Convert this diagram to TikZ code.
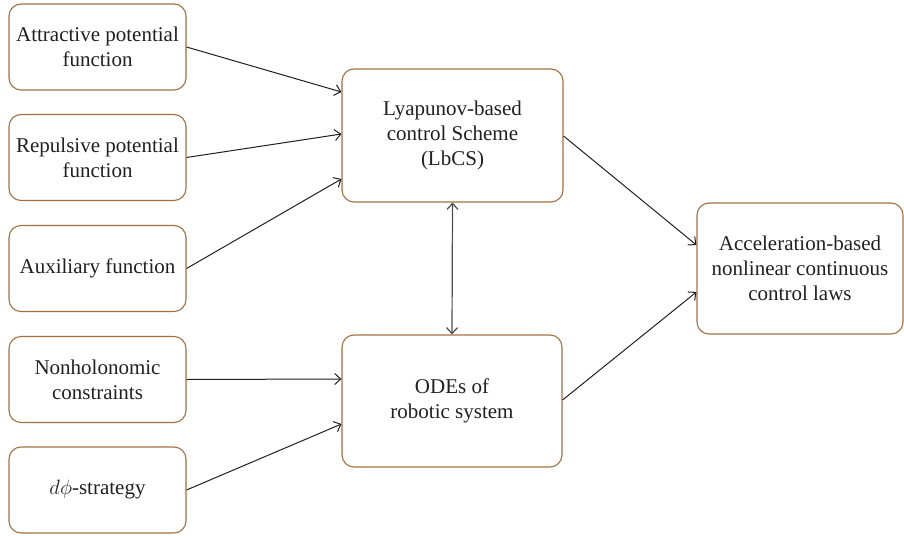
\documentclass[tikz,border=0pt]{standalone}
\usepackage{fontspec}
\setmainfont{Liberation Serif}
\usetikzlibrary{arrows.meta}
\definecolor{boxbrown}{HTML}{A0703F}
\definecolor{txt}{HTML}{231F20}
\begin{document}
\begin{tikzpicture}[x=1pt,y=-1pt,
  blk/.style={draw=boxbrown, line width=1.1pt, rounded corners=12pt, align=center,
    text=txt, font=\fontsize{21}{25}\selectfont, inner sep=0pt},
  lbox/.style={blk, minimum width=177pt, minimum height=86pt},
  conn/.style={draw=txt, line width=1pt, -{Straight Barb[length=6pt,width=11pt]}},
  biconn/.style={draw=txt!80, line width=1.2pt, {Straight Barb[length=6pt,width=11pt]}-{Straight Barb[length=6pt,width=11pt]}}]
\useasboundingbox (0,0) rectangle (904,535);
\node[lbox] (a1) at (97.5,47) {Attractive potential\\function};
\node[lbox] (a2) at (97.5,157.5) {Repulsive potential\\function};
\node[lbox] (a3) at (97.5,268.5) {Auxiliary function};
\node[lbox] (a4) at (97.5,379.5) {Nonholonomic\\constraints};
\node[lbox] (a5) at (97.5,490) {$d\phi$-strategy};
\node[blk, minimum width=221pt, minimum height=133pt] (lb) at (452.5,135.5) {Lyapunov-based\\control Scheme\\(LbCS)};
\node[blk, minimum width=220pt, minimum height=132pt] (ode) at (452,401) {ODEs of\\robotic system};
\node[blk, minimum width=206pt, minimum height=131pt] (acc) at (800,268.5) {Acceleration-based\\nonlinear continuous\\control laws};
\coordinate (l1) at (lb.west |- 0,92);
\coordinate (l2) at (lb.west |- 0,134);
\coordinate (l3) at (lb.west |- 0,179);
\coordinate (o1) at (ode.west |- 0,379);
\coordinate (o2) at (ode.west |- 0,424);
\coordinate (c1) at (acc.west |- 0,245);
\coordinate (c2) at (acc.west |- 0,292);
\coordinate (lbout) at (lb.east |- 0,136);
\coordinate (odeout) at (ode.east |- 0,400);
\draw[conn] (a1.east) -- (l1);
\draw[conn] (a2.east) -- (l2);
\draw[conn] (a3.east) -- (l3);
\draw[conn] (a4.east) -- (o1);
\draw[conn] (a5.east) -- (o2);
\draw[conn] (lbout) -- (c1);
\draw[conn] (odeout) -- (c2);
\draw[biconn] (lb.south) -- (ode.north);
\end{tikzpicture}
\end{document}
